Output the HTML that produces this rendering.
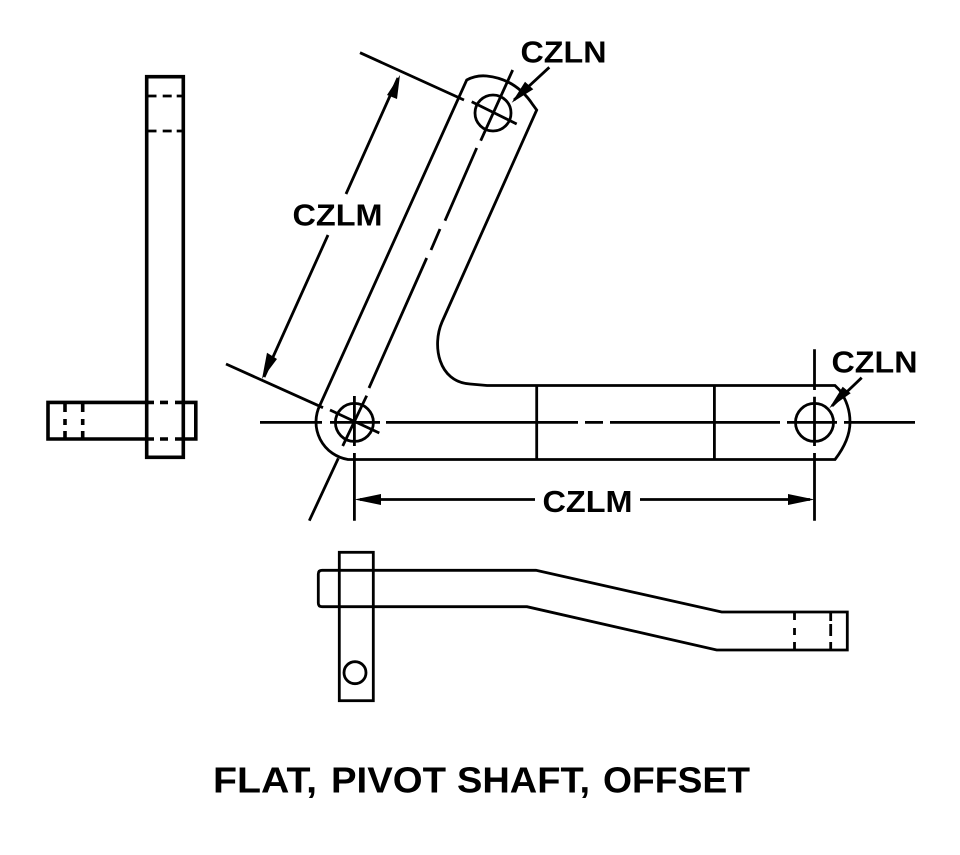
<!DOCTYPE html>
<html><head><meta charset="utf-8"><style>
html,body{margin:0;padding:0;background:#fff}
svg{display:block}
text{font-family:"Liberation Sans",sans-serif;font-weight:bold;fill:#000}
</style></head><body>
<svg width="960" height="855" viewBox="0 0 960 855" xmlns="http://www.w3.org/2000/svg">
<rect width="960" height="855" fill="#fff"/>
<g fill="none" stroke="#000" stroke-width="2.8">
<!-- main outline -->
<path d="M320 405 L466.700 80 Q476 75 486.700 76 Q516 79 533 105 L536.700 110 L442 322 C432 345 438 382 470 384 L487 385.500 L835 385.500 L839.500 390 Q850 405 850 422 Q850 440 835 459.500 L348 459.500 A38 38 0 0 1 320 405"/>
<path d="M536.700 385.500V459.500M714.400 385.500V459.500"/>
<!-- centerlines -->
<path d="M260 422.400H322M330 422.400H380M386 422.400H578M585 422.400H603M610 422.400H780M787 422.400H837M844 422.400H915"/>
<path d="M512.700 70L480.700 140.700M476.700 148L445 220.700M440 229L431 250M426.700 258L369 388M366.700 395.700L342.700 446"/>
<path d="M471.700 101.700L516.700 124M330 410L379.300 433"/>
<circle cx="493" cy="113" r="18"/><circle cx="354.400" cy="422.400" r="19"/><circle cx="814.500" cy="422.400" r="19"/>
<!-- extension lines -->
<path d="M360 52.700L464 100M226 364L323 407.700M338.300 458.300L309.300 520.700"/>
<path d="M354.400 396V446M354.400 453V520.700M814.500 349.300V390M814.500 396.700V446M814.500 453V520.700"/>
<!-- dimension lines -->
<path d="M398 78L346 194M328 235L264 377M360 499.500H535M640 499.500H810"/>
<path d="M549.300 67.300L514 100M861.700 377.700L832 406"/>
<!-- lower view -->
<rect x="339.300" y="552.300" width="34" height="148.400"/>
<circle cx="355" cy="672.700" r="11"/>
<path d="M536 570.300H322Q318.300 570.300 318.300 574V603Q318.300 606.700 322 606.700H527L716.700 650H847.300V612H721.700L536 570.300Z"/>
<path d="M794.500 612V620M794.500 628V635M794.500 642V650M830.700 612V621M830.700 624V636M830.700 642V650"/>
</g>
<!-- left view -->
<g fill="none" stroke="#000" stroke-width="3.600">
<rect x="146.700" y="76.700" width="36.600" height="380.600"/>
<path d="M148 402.400H48V439H148M183 402.400H195.800V439H183"/>
<path d="M148 402.400H154M160 402.400H168M175 402.400H183M148 439H154M160 439H168M175 439H183"/>
<path d="M65 403V412M65 419V425M65 431V438M82.700 403V412M82.700 419V425M82.700 431V438"/>
</g>
<g fill="none" stroke="#000" stroke-width="2.800">
<path d="M148 96H156.500M162.700 96H171.700M176.700 96H183M148 131H156.500M162.700 131H171.700M176.700 131H183"/>
</g>
<!-- arrowheads -->
<g fill="#000" stroke="none">
<path d="M400 75L387 95L397 99Z"/>
<path d="M262 379L267 352.700L277 359Z"/>
<path d="M354.500 499.500L381 494V505Z"/>
<path d="M814.500 499.500L788 494V505Z"/>
<path d="M511.700 102.700L525 81.700L533.300 89.300Z"/>
<path d="M829.300 408.300L842.700 386.700L850.700 393.300Z"/>
</g>
<text x="520.500" y="62.300" font-size="31" textLength="86" lengthAdjust="spacingAndGlyphs">CZLN</text>
<text x="292.500" y="225.500" font-size="31" textLength="90" lengthAdjust="spacingAndGlyphs">CZLM</text>
<text x="831.500" y="372.300" font-size="31" textLength="86" lengthAdjust="spacingAndGlyphs">CZLN</text>
<text x="542.500" y="512" font-size="31" textLength="90" lengthAdjust="spacingAndGlyphs">CZLM</text>
<text x="213" y="792.300" font-size="36" textLength="104" lengthAdjust="spacingAndGlyphs">FLAT,</text>
<text x="331" y="792.300" font-size="36" textLength="115" lengthAdjust="spacingAndGlyphs">PIVOT</text>
<text x="457" y="792.300" font-size="36" textLength="133" lengthAdjust="spacingAndGlyphs">SHAFT,</text>
<text x="603" y="792.300" font-size="36" textLength="147" lengthAdjust="spacingAndGlyphs">OFFSET</text>
</svg>
</body></html>
